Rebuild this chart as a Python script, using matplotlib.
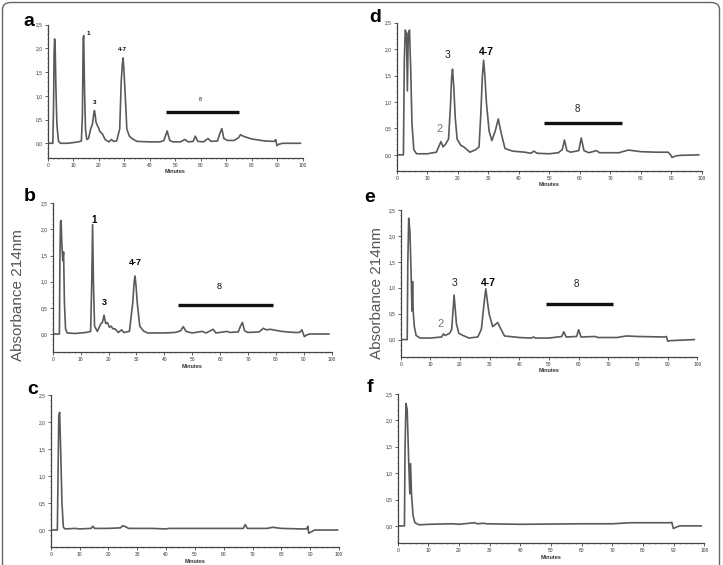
import matplotlib
matplotlib.use("Agg")
import matplotlib.pyplot as plt
from matplotlib.patches import FancyBboxPatch
from matplotlib.ticker import MultipleLocator, FuncFormatter

plt.rcParams['font.family'] = ['Liberation Sans', 'DejaVu Sans']

# retention time (min) / absorbance
a_time = [0, 2.0, 2.3, 2.5, 2.7, 2.9, 3.2, 3.6, 4.2, 5, 8, 12, 13.2, 13.6, 13.9, 14.1, 14.4, 14.8,
          15.3, 16, 16.8, 17.5, 18.0, 18.3, 18.6, 18.9, 19.4, 19.9, 20.4, 21.4, 22.5, 24, 25, 25.8,
          27, 28.2, 28.8, 29.2, 29.5, 29.8, 30.2, 31, 32, 33, 35, 40, 44, 45.5, 46.8, 47.8, 49, 52,
          53.7, 55, 57, 57.8, 58.8, 61, 62.8, 64, 66.5, 67.4, 68.2, 69, 70.5, 73, 74.8, 75.5, 77, 80,
          85, 88.8, 89.3, 89.8, 90.5, 92, 99]
a_abs = [0, 0, 0.8, 1.9, 2.2, 2.1, 1.2, 0.4, 0.05, 0.0, 0.0, 0.03, 0.05, 0.6, 2.2, 2.27, 1.2, 0.3,
         0.08, 0.1, 0.3, 0.4, 0.6, 0.69, 0.6, 0.45, 0.38, 0.33, 0.25, 0.2, 0.08, 0.03, 0.08, 0.04,
         0.05, 0.3, 1.3, 1.65, 1.8, 1.6, 1.2, 0.3, 0.15, 0.1, 0.04, 0.03, 0.03, 0.06, 0.26, 0.06,
         0.03, 0.03, 0.08, 0.03, 0.04, 0.15, 0.04, 0.03, 0.1, 0.04, 0.05, 0.2, 0.31, 0.1, 0.06,
         0.06, 0.12, 0.18, 0.14, 0.09, 0.05, 0.04, 0.08, -0.05, -0.02, 0.0, 0.0]

b_time = [0, 2.4, 2.6, 2.8, 3.0, 3.3, 3.6, 3.9, 4.2, 4.6, 5.2, 8, 12, 13.6, 14.0, 14.3, 14.6, 15.0,
          16, 17.3, 17.8, 18.4, 19.0, 19.6, 20.3, 20.9, 21.6, 22.3, 23.5, 24.7, 25.5, 27.5, 28.7,
          29.2, 29.5, 29.9, 30.3, 31.2, 32.5, 34, 40, 44, 45.8, 46.8, 47.8, 50, 53.5, 55, 57.5, 58.5,
          62.5, 63.5, 66.5, 67.3, 68, 68.8, 70, 74, 75.5, 76.5, 78, 82, 86.5, 88.5, 89.3, 90.2, 91,
          92, 99]
b_abs = [0, 0, 1.5, 2.15, 2.17, 1.7, 1.4, 1.57, 0.6, 0.1, 0.02, 0.01, 0.03, 0.05, 1.0, 2.09, 1.0,
         0.15, 0.05, 0.2, 0.22, 0.36, 0.2, 0.22, 0.13, 0.15, 0.1, 0.1, 0.03, 0.08, 0.03, 0.05, 0.6,
         1.0, 1.11, 0.9, 0.6, 0.15, 0.06, 0.02, 0.02, 0.03, 0.06, 0.14, 0.05, 0.02, 0.05, 0.02, 0.09,
         0.02, 0.05, 0.03, 0.04, 0.15, 0.22, 0.06, 0.03, 0.04, 0.11, 0.08, 0.09, 0.05, 0.03, 0.03,
         0.08, -0.05, -0.02, 0.0, 0.0]

c_time = [0, 2.3, 2.5, 2.8, 3.1, 3.5, 3.9, 4.4, 5, 8.5, 10, 14, 14.6, 15.2, 20, 24.2, 25, 26, 27,
          35, 40, 41, 60, 66.8, 67.5, 68.2, 75, 77, 80, 87, 88.8, 89.2, 89.5, 90.5, 91.5, 99.5]
c_abs = [0, 0, 0.8, 2.1, 2.18, 1.4, 0.5, 0.05, 0.02, 0.03, 0.02, 0.03, 0.07, 0.03, 0.03, 0.04,
         0.08, 0.06, 0.03, 0.03, 0.02, 0.03, 0.03, 0.03, 0.1, 0.03, 0.03, 0.05, 0.03, 0.02, 0.02,
         0.07, -0.06, -0.03, 0.0, 0.0]

d_time = [0, 2.2, 2.5, 2.8, 3.2, 3.5, 3.8, 4.2, 4.6, 5.0, 5.6, 6.5, 10, 13, 14.5, 15.2, 16, 17,
          17.6, 18.0, 18.3, 18.7, 19.2, 19.8, 21, 22, 24, 26, 27, 27.6, 28.1, 28.5, 28.9, 29.4, 30.3,
          31.2, 32.3, 33.3, 34.3, 35.5, 38, 42, 44, 45, 46, 50, 53, 54.3, 55, 55.8, 57, 59.7, 60.5,
          61.4, 63, 65.5, 66.5, 73, 74, 76, 80, 85, 89, 89.8, 90.3, 91.5, 93, 99]
d_abs = [0, 0, 1.8, 2.36, 2.3, 1.21, 2.3, 2.36, 1.6, 0.6, 0.1, 0.02, 0.02, 0.05, 0.25, 0.15, 0.2,
         0.3, 0.9, 1.45, 1.62, 1.3, 0.7, 0.3, 0.18, 0.15, 0.05, 0.1, 0.15, 0.8, 1.5, 1.79, 1.5, 1.0,
         0.45, 0.27, 0.45, 0.68, 0.4, 0.12, 0.07, 0.05, 0.03, 0.07, 0.03, 0.02, 0.04, 0.1, 0.28,
         0.08, 0.05, 0.08, 0.32, 0.08, 0.04, 0.08, 0.04, 0.04, 0.06, 0.09, 0.06, 0.05, 0.05, 0.0,
         -0.05, -0.02, -0.01, 0.0]

e_time = [0, 2.2, 2.4, 2.7, 3.1, 3.5, 3.8, 4.0, 4.2, 4.6, 5.2, 6.5, 10, 13.8, 14.4, 15, 16.5, 17.2,
          18, 18.8, 19.6, 21, 23, 26, 27.2, 28.2, 28.7, 29.2, 29.8, 31, 32.7, 33.8, 35, 40, 44, 44.8,
          45.5, 50, 54.3, 55, 55.8, 59.3, 60, 60.8, 65.5, 66.5, 73, 76, 80, 89, 89.6, 90, 91, 99]
e_abs = [0, 0, 1.5, 2.34, 2.1, 1.3, 0.55, 1.12, 0.55, 0.25, 0.08, 0.03, 0.03, 0.05, 0.11, 0.08,
         0.12, 0.2, 0.86, 0.3, 0.12, 0.08, 0.03, 0.05, 0.2, 0.75, 0.98, 0.75, 0.5, 0.25, 0.33, 0.2,
         0.07, 0.04, 0.03, 0.05, 0.03, 0.03, 0.06, 0.15, 0.05, 0.06, 0.19, 0.05, 0.06, 0.04, 0.04,
         0.07, 0.06, 0.05, 0.06, -0.03, -0.02, 0.0]

f_time = [0, 2.2, 2.4, 2.7, 3.1, 3.6, 3.95, 4.2, 4.5, 5, 5.6, 7, 10, 18, 20, 25, 26, 28, 29, 40,
          60, 70, 76, 89, 89.4, 89.9, 91, 92, 99]
f_abs = [0, 0, 1.5, 2.32, 2.2, 1.2, 0.61, 1.18, 0.6, 0.2, 0.06, 0.02, 0.03, 0.04, 0.03, 0.06, 0.04,
         0.05, 0.04, 0.03, 0.04, 0.04, 0.06, 0.06, 0.07, -0.05, -0.02, 0.0, 0.0]

# fraction 8 bars (start, end, level)
a_bar = [46.2, 75.0, 0.65]
b_bar = [44.8, 79.1, 0.55]
d_bar = [48.3, 73.8, 0.60]
e_bar = [48.9, 71.7, 0.69]

W, H = 723, 565
fig = plt.figure(figsize=(W / 100, H / 100), dpi=100)


def px_axes(x0, x1, ytop, ybot):
    return fig.add_axes([x0 / W, 1 - ybot / H, (x1 - x0) / W, (ybot - ytop) / H])


def style(ax, ymin):
    ax.set_xlim(0, 100)
    ax.set_ylim(ymin, 2.5)
    for s in ['top', 'right']:
        ax.spines[s].set_visible(False)
    for s in ['left', 'bottom']:
        ax.spines[s].set_linewidth(0.9)
        ax.spines[s].set_color('#444')
    ax.xaxis.set_major_locator(MultipleLocator(10))
    ax.xaxis.set_minor_locator(MultipleLocator(2))
    ax.yaxis.set_major_locator(MultipleLocator(0.5))
    ax.yaxis.set_minor_locator(MultipleLocator(0.1))
    ax.yaxis.set_major_formatter(FuncFormatter(lambda v, p: f"{v:.1f}".replace('.', ',')))
    ax.tick_params(which='major', length=2, width=0.6, color='#444', labelsize=3.5,
                   labelcolor='#333', pad=1.5)
    ax.tick_params(which='minor', length=1, width=0.4, color='#444')
    ax.set_xlabel('Minutes', fontsize=4, color='#333', labelpad=1, fontweight='bold')
    ax.patch.set_alpha(0)


line_kw = dict(color='#5a5a5a', lw=1.2, solid_joinstyle='round')
bar_kw = dict(color='#111111', lw=2.4, solid_capstyle='butt')

# a
ax = px_axes(47.7, 303, 24.7, 158)
style(ax, -0.31)
ax.plot(a_time, a_abs, **line_kw)
ax.plot(a_bar[:2], [a_bar[2]] * 2, **bar_kw)
ax.text(15.9, 2.32, '1', fontsize=4.5, fontweight='bold', ha='center', va='center')
ax.text(29.3, 1.97, '4-7', fontsize=4.5, fontweight='bold', ha='center', va='center')
ax.text(18.5, 0.85, '3', fontsize=4.5, fontweight='bold', ha='center', va='center')
ax.text(59.6, 0.92, '8', fontsize=3.8, ha='center', va='center')

# b
ax = px_axes(52.7, 331.7, 203.3, 352.3)
style(ax, -0.35)
ax.plot(b_time, b_abs, **line_kw)
ax.plot(b_bar[:2], [b_bar[2]] * 2, **bar_kw)
ax.text(14.8, 2.19, '1', fontsize=7, fontweight='bold', ha='center', va='center')
ax.text(29.5, 1.36, '4-7', fontsize=6.5, fontweight='bold', ha='center', va='center')
ax.text(18.4, 0.61, '3', fontsize=6.5, fontweight='bold', ha='center', va='center')
ax.text(59.7, 0.9, '8', fontsize=6.5, ha='center', va='center')

# c
ax = px_axes(50.7, 339, 395, 547.3)
style(ax, -0.32)
ax.plot(c_time, c_abs, **line_kw)

# d
ax = px_axes(396.7, 701.7, 22.7, 170.7)
style(ax, -0.30)
ax.plot(d_time, d_abs, **line_kw)
ax.plot(d_bar[:2], [d_bar[2]] * 2, **bar_kw)
ax.text(16.7, 1.89, '3', fontsize=7.5, ha='center', va='center', color='#222')
ax.text(29.5, 1.94, '4-7', fontsize=7.5, fontweight='bold', ha='center', va='center')
ax.text(13.9, 0.48, '2', fontsize=8, ha='center', va='center', color='#777')
ax.text(59.2, 0.86, '8', fontsize=7, ha='center', va='center', color='#222')

# e
ax = px_axes(400.7, 697.3, 210, 356.7)
style(ax, -0.33)
ax.plot(e_time, e_abs, **line_kw)
ax.plot(e_bar[:2], [e_bar[2]] * 2, **bar_kw)
ax.text(18.1, 1.1, '3', fontsize=7.5, ha='center', va='center', color='#222')
ax.text(29.5, 1.1, '4-7', fontsize=7.5, fontweight='bold', ha='center', va='center')
ax.text(13.6, 0.31, '2', fontsize=8, ha='center', va='center', color='#777')
ax.text(59.3, 1.07, '8', fontsize=7, ha='center', va='center', color='#222')

# f
ax = px_axes(397.7, 704.3, 394, 543.3)
style(ax, -0.33)
ax.plot(f_time, f_abs, **line_kw)

# panel letters
for lab, x, y in [('a', 29, 22), ('b', 30, 196), ('c', 33, 389),
                  ('d', 375, 17), ('e', 370, 197), ('f', 370, 388)]:
    fig.text(x / W, 1 - y / H, lab, fontsize=14, fontweight='bold', ha='center', va='center')

fig.text(18 / W, 1 - 295 / H, 'Absorbance 214nm', rotation=90, fontsize=11, color='#555',
         ha='center', va='center')
fig.text(377 / W, 1 - 293 / H, 'Absorbance 214nm', rotation=90, fontsize=11, color='#555',
         ha='center', va='center')

# outer rounded frame
frame = FancyBboxPatch((2.5 / W, -0.05), 717 / W, 1.05 - 2.5 / H,
                       boxstyle='round,pad=0,rounding_size=0.012',
                       transform=fig.transFigure, fill=False, ec='#666', lw=1.0)
fig.patches.append(frame)

fig.savefig('out.png', dpi=100)
